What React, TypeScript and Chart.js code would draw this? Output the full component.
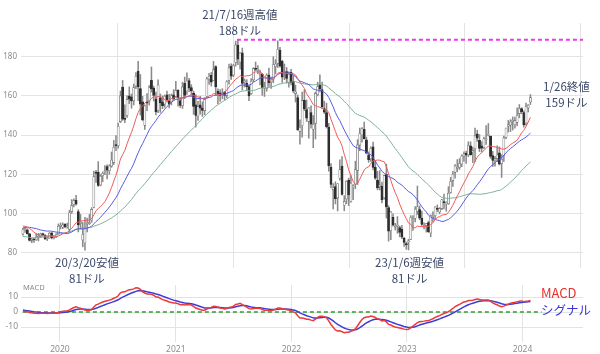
import React, { useEffect, useRef } from 'react';
import { Chart, registerables } from 'chart.js';

Chart.register(...registerables);

// Weekly candles (Fridays) starting 2019-09-06, US$
const startDate = '2019-09-06';

// weekly closes before the window (for moving averages / MACD warm-up)
const warmupCloses = [
  97.6, 98.6, 95.9, 100.1, 94.8, 89.3, 88.1, 82.2, 83.3, 85.5,
  79.3, 75.0, 84.5, 81.2, 79.9, 69.9, 75.5, 78.8, 82.0, 84.8,
  83.5, 81.7, 79.9, 81.4, 81.6, 83.7, 81.3, 85.6, 88.0, 89.0,
  91.7, 92.2, 93.9, 97.8, 98.1, 94.5, 93.4, 90.7, 88.6, 90.2,
  93.8, 95.6, 94.7, 97.9, 100.1, 98.2, 97.3, 91.6, 90.3, 89.2,
  87.8, 88.9,
];

const opens = [
  89.5, 91.8, 91.7, 89.6, 86.3, 86.9, 86.6, 88.0, 88.3, 89.8,
  89.0, 87.0, 87.5, 90.2, 87.5, 88.3, 89.7, 93.4, 93.0, 94.5,
  93.1, 91.9, 101.0, 104.6, 106.7, 101.0, 95.0, 86.5, 85.0, 94.5,
  94.8, 96.6, 103.2, 121.0, 121.2, 114.5, 119.3, 121.3, 124.0, 121.8,
  124.2, 126.0, 134.9, 134.6, 146.9, 164.5, 148.3, 150.0, 160.0, 159.5,
  157.5, 165.0, 172.5, 163.8, 157.0, 145.0, 157.0, 157.2, 168.0, 164.0,
  158.5, 152.6, 159.0, 157.0, 155.8, 160.5, 157.5, 157.0, 160.5, 159.7,
  162.8, 157.6, 155.0, 166.4, 162.5, 167.8, 164.3, 161.4, 155.4, 149.8,
  155.5, 153.9, 152.5, 159.7, 168.6, 170.5, 168.0, 175.0, 162.3, 161.6,
  161.1, 161.9, 160.3, 168.0, 175.1, 170.6, 177.1, 185.8, 177.3, 182.0,
  167.2, 166.6, 164.8, 161.2, 168.2, 174.1, 173.0, 171.0, 171.0, 164.0,
  163.8, 170.6, 167.2, 168.5, 175.0, 176.6, 183.3, 177.7, 171.8, 172.4,
  167.0, 172.0, 167.5, 161.2, 159.1, 141.9, 144.8, 157.7, 153.0, 147.0,
  151.5, 143.0, 146.0, 160.6, 165.6, 163.2, 153.5, 151.5, 144.0, 123.7,
  112.2, 113.7, 108.0, 118.0, 124.2, 104.2, 107.4, 116.9, 106.3, 113.6,
  115.0, 122.0, 134.9, 140.1, 142.9, 137.6, 129.9, 127.9, 134.0, 123.6,
  117.0, 113.6, 114.0, 108.0, 120.0, 103.0, 91.2, 98.0, 93.0, 93.5,
  92.8, 92.0, 87.5, 84.7, 85.5, 86.8, 96.9, 97.6, 101.2, 102.0,
  97.5, 93.2, 93.9, 95.4, 90.1, 98.0, 98.9, 102.3, 100.8, 102.5,
  106.1, 104.9, 105.0, 110.7, 116.8, 121.0, 123.0, 123.5, 125.3, 129.3,
  130.8, 130.0, 134.5, 131.4, 133.0, 140.6, 137.4, 134.5, 133.8, 137.7,
  140.0, 139.5, 129.5, 127.3, 128.0, 131.0, 125.5, 129.5, 138.8, 144.5,
  145.1, 147.0, 145.3, 146.5, 151.0, 153.6, 151.5, 146.2, 153.9, 156.9,
];

const highs = [
  92.4, 92.9, 92.2, 89.9, 87.3, 87.5, 89.8, 89.9, 90.0, 90.0,
  89.3, 88.1, 90.3, 90.3, 88.8, 89.8, 94.7, 95.2, 95.3, 94.9,
  95.1, 101.7, 107.1, 107.5, 109.3, 102.0, 99.5, 95.4, 98.0, 97.7,
  99.5, 103.0, 121.6, 122.0, 126.5, 119.9, 121.2, 124.5, 124.9, 124.9,
  131.4, 137.3, 139.8, 146.2, 162.5, 167.9, 155.4, 160.0, 164.6, 161.0,
  166.0, 171.9, 177.6, 170.9, 159.8, 155.4, 161.2, 165.3, 174.8, 165.0,
  162.0, 168.2, 161.0, 160.0, 160.5, 162.5, 160.8, 161.0, 163.2, 167.5,
  163.2, 159.2, 167.0, 169.6, 171.8, 169.0, 165.7, 162.5, 160.6, 157.2,
  159.8, 157.0, 159.0, 169.5, 171.5, 172.0, 177.6, 175.4, 163.6, 163.2,
  163.7, 162.3, 167.8, 176.2, 176.4, 176.2, 187.9, 188.7, 182.1, 184.4,
  168.7, 168.3, 165.4, 168.9, 174.4, 177.3, 175.5, 173.2, 171.5, 167.0,
  171.3, 174.2, 169.6, 180.0, 178.5, 188.1, 184.8, 178.2, 176.3, 174.5,
  172.3, 173.6, 170.7, 165.5, 160.5, 147.8, 162.0, 163.2, 158.0, 154.0,
  155.0, 150.0, 162.0, 167.0, 170.8, 167.0, 157.3, 156.3, 146.0, 125.5,
  115.3, 116.2, 115.3, 127.4, 129.0, 109.1, 116.7, 118.0, 119.4, 114.8,
  126.7, 137.7, 143.6, 143.9, 146.6, 139.0, 131.4, 134.0, 136.5, 127.0,
  121.5, 121.9, 116.0, 119.5, 125.2, 104.0, 101.0, 99.9, 95.0, 98.4,
  93.6, 94.0, 87.9, 85.4, 86.9, 98.9, 99.0, 103.5, 114.0, 103.9,
  101.2, 95.3, 95.0, 96.1, 99.3, 100.8, 103.5, 104.4, 103.0, 107.2,
  109.9, 106.0, 113.7, 118.4, 121.5, 125.0, 127.5, 128.0, 130.0, 131.5,
  131.9, 136.6, 136.6, 133.9, 143.6, 142.5, 140.3, 136.6, 139.0, 144.8,
  145.9, 139.5, 131.7, 129.2, 134.5, 134.0, 130.0, 139.5, 143.6, 147.5,
  147.9, 149.3, 149.2, 153.9, 155.6, 154.0, 152.4, 156.4, 155.6, 160.7,
];

const lows = [
  89.0, 90.4, 89.4, 85.9, 85.1, 85.2, 86.3, 86.0, 87.8, 88.5,
  86.6, 86.2, 87.4, 87.0, 87.0, 87.8, 89.5, 92.1, 92.3, 92.6,
  92.5, 90.6, 100.0, 103.4, 104.2, 90.6, 92.0, 83.0, 81.3, 90.6,
  94.4, 95.5, 102.9, 115.8, 113.8, 114.1, 116.2, 119.8, 117.7, 120.0,
  123.6, 125.0, 132.1, 133.4, 146.4, 147.5, 146.4, 149.0, 156.1, 153.7,
  155.4, 163.7, 157.6, 150.2, 147.3, 142.9, 152.5, 155.3, 162.0, 157.4,
  150.3, 151.4, 151.6, 153.5, 154.2, 156.8, 153.9, 155.4, 157.7, 159.5,
  154.8, 154.1, 153.6, 158.6, 160.8, 162.2, 160.3, 150.6, 144.1, 147.5,
  150.7, 149.5, 150.4, 158.7, 165.8, 165.0, 167.9, 160.5, 156.0, 157.2,
  158.5, 157.9, 159.1, 166.0, 168.4, 169.8, 175.2, 176.0, 173.6, 163.0,
  164.5, 162.7, 157.6, 160.8, 167.3, 172.9, 171.4, 165.6, 160.3, 159.7,
  162.4, 164.9, 163.8, 166.7, 171.2, 174.5, 174.7, 166.9, 168.3, 166.5,
  164.5, 165.6, 161.7, 156.9, 142.4, 135.4, 139.0, 152.5, 147.0, 138.4,
  143.6, 133.6, 138.0, 160.0, 162.0, 153.6, 151.0, 143.6, 121.6, 113.0,
  102.4, 104.9, 101.3, 117.0, 109.4, 101.4, 105.0, 104.0, 105.8, 107.0,
  112.6, 114.8, 132.0, 136.4, 137.9, 130.4, 126.1, 126.6, 122.3, 117.4,
  112.1, 112.0, 105.4, 107.3, 97.7, 85.9, 86.6, 93.5, 91.6, 89.9,
  88.1, 87.2, 83.2, 81.7, 81.4, 86.8, 91.4, 95.7, 99.5, 96.8,
  93.9, 92.1, 90.5, 90.3, 88.1, 95.6, 97.1, 101.0, 99.8, 102.0,
  102.4, 101.2, 104.6, 110.4, 113.8, 118.0, 121.3, 122.5, 123.9, 126.6,
  125.5, 129.0, 129.7, 125.9, 126.4, 136.8, 131.6, 131.4, 132.9, 135.3,
  139.5, 128.1, 124.0, 124.2, 126.5, 124.8, 118.4, 126.6, 138.2, 141.5,
  141.8, 142.6, 143.6, 144.7, 148.9, 150.9, 144.1, 145.0, 151.8, 155.6,
];

const closes = [
  91.7, 91.9, 89.7, 86.3, 86.9, 86.5, 87.9, 88.1, 89.6, 89.2,
  87.0, 87.3, 90.0, 87.6, 88.0, 89.3, 93.5, 93.7, 94.2, 93.2,
  93.1, 100.4, 104.0, 106.7, 104.8, 94.2, 95.1, 89.3, 92.3, 95.0,
  95.3, 102.1, 118.8, 120.5, 114.3, 119.0, 120.5, 121.8, 122.1, 124.2,
  127.3, 133.8, 134.6, 144.5, 160.0, 148.1, 148.0, 158.2, 158.4, 157.4,
  164.2, 170.1, 164.7, 155.8, 147.7, 154.8, 156.3, 164.3, 163.6, 160.2,
  151.8, 165.6, 156.4, 155.0, 159.8, 158.1, 155.8, 160.1, 158.6, 162.8,
  159.1, 155.2, 164.6, 160.3, 167.6, 163.9, 162.5, 154.6, 150.0, 154.5,
  153.7, 152.6, 158.1, 168.6, 170.0, 167.0, 173.4, 164.6, 161.1, 160.2,
  161.5, 160.3, 167.3, 174.3, 170.1, 175.5, 186.0, 178.7, 181.9, 166.4,
  167.2, 164.7, 160.0, 167.5, 173.9, 173.5, 173.1, 171.3, 164.2, 164.4,
  170.5, 166.8, 168.6, 175.9, 176.3, 183.8, 175.2, 169.5, 171.9, 168.9,
  171.1, 166.7, 162.6, 162.1, 142.6, 144.0, 157.6, 153.3, 148.7, 153.8,
  145.6, 145.5, 161.3, 164.8, 163.6, 154.5, 151.7, 144.3, 124.3, 114.8,
  113.1, 107.6, 115.2, 122.4, 109.7, 106.2, 116.5, 109.6, 115.5, 113.6,
  122.4, 135.0, 140.8, 143.2, 138.2, 130.8, 127.5, 133.3, 123.5, 118.0,
  113.0, 114.6, 106.9, 119.3, 103.4, 91.0, 100.8, 94.1, 93.4, 94.1,
  90.4, 87.9, 85.3, 84.0, 86.1, 98.1, 97.3, 102.2, 103.4, 97.6,
  94.4, 93.5, 94.9, 90.7, 99.0, 98.1, 103.3, 102.1, 102.5, 107.0,
  105.5, 105.7, 110.3, 116.3, 120.1, 124.3, 123.4, 125.5, 129.3, 130.4,
  129.8, 134.7, 130.0, 132.2, 139.6, 138.4, 133.2, 133.3, 138.1, 138.2,
  140.4, 129.1, 127.1, 128.0, 129.8, 125.2, 127.7, 138.6, 143.6, 145.2,
  146.7, 147.0, 147.4, 150.0, 153.4, 151.9, 145.2, 154.6, 155.3, 159.1,
];

const maPeriods = [13, 26, 52];
const macdPeriods = [12, 26, 9];

const yTicksMain = [80, 100, 120, 140, 160, 180];
const yTicksMacd = [-10, 0, 10];
const yearLabels = ['2020', '2021', '2022', '2023', '2024'];

const peakValue = 188.65;
const peakDate = '2021-07-13';

const highLabel = ['21/7/16週高値', '188ドル'];
const highLabelDate = '2021-07-16';
const low1Label = ['20/3/20安値', '81ドル'];
const low1Date = '2020-03-20';
const low2Label = ['23/1/6週安値', '81ドル'];
const low2Date = '2023-01-06';
const lastLabel = ['1/26終値', '159ドル'];
const lastDate = '2024-01-26';
const macdLegend = ['MACD', 'シグナル'];
const zeroLineEnd = '2024-03-01';

// ---------- helpers ----------
const DAY = 86400000;
const toUTC = (s: string) => {
  const [y, m, d] = s.split('-').map(Number);
  return Date.UTC(y, m - 1, d);
};
const dayOf = (s: string) => Math.round((toUTC(s) - toUTC(startDate)) / DAY);
const weekDay = (i: number) => i * 7;
const yearDays = yearLabels.map((y) => dayOf(`${y}-01-01`));

const X_MIN = -6;
const X_MAX = 1769;

const allCloses = warmupCloses.concat(closes);
const W = warmupCloses.length;

function sma(n: number) {
  return closes.map((_, i) => {
    const end = W + i;
    let s = 0;
    for (let k = end - n + 1; k <= end; k++) s += allCloses[k];
    return s / n;
  });
}
function ema(series: number[], n: number) {
  const a = 2 / (n + 1);
  const out: number[] = [];
  series.forEach((v, i) => out.push(i === 0 ? v : a * v + (1 - a) * out[i - 1]));
  return out;
}
const emaFast = ema(allCloses, macdPeriods[0]);
const emaSlow = ema(allCloses, macdPeriods[1]);
const macdAll = emaFast.map((v, i) => v - emaSlow[i]);
const signalAll = ema(macdAll, macdPeriods[2]);
const macd = macdAll.slice(W);
const signal = signalAll.slice(W);

const FONT = '"Noto Sans", "Noto Sans CJK JP", sans-serif';
const CJK = '"Noto Sans CJK JP", "Noto Sans", sans-serif';
const GRID = '#e3e3e3';

const yearTicks = (axis: any) => {
  axis.ticks = yearDays.map((v) => ({ value: v }));
};

export default function App() {
  const mainRef = useRef<HTMLCanvasElement>(null);
  const macdRef = useRef<HTMLCanvasElement>(null);

  useEffect(() => {
    Chart.defaults.font.family = FONT;
    const ma = maPeriods.map((n) => sma(n));
    const maColors = ['#f05a5a', '#5a5ae0', '#7fb096'];

    const annotPlugin = {
      id: 'annot',
      afterDatasetsDraw(chart: any) {
        const ctx = chart.ctx;
        const xs = chart.scales.x;
        ctx.save();
        ctx.font = `11.5px ${CJK}`;
        ctx.fillStyle = '#3b4868';
        ctx.textAlign = 'center';
        ctx.textBaseline = 'middle';
        const put = (lines: string[], cx: number, y0: number) => {
          ctx.fillText(lines[0], cx, y0);
          ctx.fillText(lines[1], cx, y0 + 16);
        };
        put(highLabel, xs.getPixelForValue(dayOf(highLabelDate)) + 2, 15);
        put(low1Label, xs.getPixelForValue(dayOf(low1Date)) + 2, 263);
        put(low2Label, xs.getPixelForValue(dayOf(low2Date)) + 1, 263);
        put(lastLabel, xs.getPixelForValue(dayOf(lastDate)) + 36, 87);
        ctx.restore();
      },
    };

    const main = new Chart(mainRef.current!, {
      type: 'bar',
      data: {
        datasets: [
          ...ma.map((vals, k) => ({
            type: 'line' as const,
            data: vals.map((v, i) => ({ x: weekDay(i), y: v })),
            borderColor: maColors[k],
            borderWidth: 1,
            pointRadius: 0,
            tension: 0,
            order: 0,
          })),
          {
            type: 'line' as const,
            data: [
              { x: dayOf(peakDate), y: peakValue },
              { x: X_MAX, y: peakValue },
            ],
            borderColor: '#e63de6',
            borderWidth: 2,
            borderDash: [4, 3],
            pointRadius: 0,
            order: 0,
          },
          {
            type: 'bar' as const,
            data: closes.map((c, i) => ({ x: weekDay(i), y: [opens[i], c] })),
            backgroundColor: (c: any) =>
              closes[c.dataIndex] >= opens[c.dataIndex] ? '#f4f4f4' : '#2e2e2e',
            borderColor: (c: any) =>
              closes[c.dataIndex] >= opens[c.dataIndex] ? '#6c6c6c' : '#2e2e2e',
            borderWidth: 0.6,
            borderSkipped: false,
            barThickness: 2.2,
            minBarLength: 1,
            grouped: false,
            order: 1,
          },
          {
            type: 'bar' as const,
            data: closes.map((_, i) => ({ x: weekDay(i), y: [lows[i], highs[i]] })),
            backgroundColor: '#8a8a8a',
            barThickness: 0.9,
            grouped: false,
            order: 2,
          },
        ] as any,
      },
      options: {
        animation: false,
        responsive: false,
        events: [],
        layout: { padding: { top: 23, right: 17, bottom: 86, left: 0 } },
        plugins: { legend: { display: false }, tooltip: { enabled: false } },
        scales: {
          x: {
            type: 'linear',
            offset: false,
            min: X_MIN,
            max: X_MAX,
            afterBuildTicks: yearTicks,
            afterFit: (a: any) => {
              a.height = 0;
            },
            ticks: { display: false },
            grid: { color: GRID, drawTicks: false },
            border: { display: false },
          },
          y: {
            type: 'linear',
            min: 72.2,
            max: 197.2,
            afterBuildTicks: (a: any) => {
              a.ticks = yTicksMain.map((v) => ({ value: v }));
            },
            afterFit: (a: any) => {
              a.width = 21;
            },
            ticks: { color: '#8c8c8c', font: { size: 8 }, padding: 4 },
            grid: { color: GRID, drawTicks: false },
            border: { display: false },
          },
        },
      } as any,
      plugins: [annotPlugin],
    });

    const macdPlugin = {
      id: 'macdText',
      afterDatasetsDraw(chart: any) {
        const ctx = chart.ctx;
        ctx.save();
        ctx.textBaseline = 'middle';
        ctx.textAlign = 'left';
        ctx.font = `7.5px ${FONT}`;
        ctx.fillStyle = '#8c8c8c';
        ctx.fillText('MACD', 23, 288);
        ctx.font = `13px ${CJK}`;
        ctx.fillStyle = '#e8302e';
        ctx.fillText(macdLegend[0], 541, 293);
        ctx.font = `12.5px ${CJK}`;
        ctx.fillStyle = '#3a38d8';
        ctx.fillText(macdLegend[1], 541, 310);
        ctx.restore();
      },
    };

    const macdChart = new Chart(macdRef.current!, {
      type: 'line',
      data: {
        datasets: [
          {
            data: macd.map((v, i) => ({ x: weekDay(i), y: v })),
            borderColor: '#ec3a3a',
            borderWidth: 1.5,
            pointRadius: 0,
            order: 0,
          },
          {
            data: signal.map((v, i) => ({ x: weekDay(i), y: v })),
            borderColor: '#3c3cdc',
            borderWidth: 1.5,
            pointRadius: 0,
            order: 1,
          },
          {
            data: [
              { x: 0, y: 0 },
              { x: dayOf(zeroLineEnd), y: 0 },
            ],
            borderColor: '#2ca02c',
            borderWidth: 1.5,
            borderDash: [4, 3],
            pointRadius: 0,
            order: 2,
          },
        ],
      },
      options: {
        animation: false,
        responsive: false,
        events: [],
        layout: { padding: { top: 285, right: 17, bottom: 0, left: 0 } },
        plugins: { legend: { display: false }, tooltip: { enabled: false } },
        scales: {
          x: {
            type: 'linear',
            min: X_MIN,
            max: X_MAX,
            afterBuildTicks: yearTicks,
            afterFit: (a: any) => {
              a.height = 12;
            },
            ticks: {
              color: '#8c8c8c',
              font: { size: 8.5 },
              padding: 2,
              maxRotation: 0,
              callback: (_v: any, i: number) => yearLabels[i],
            },
            grid: { color: GRID, drawTicks: false },
            border: { display: false },
          },
          y: {
            type: 'linear',
            min: -20,
            max: 18,
            afterBuildTicks: (a: any) => {
              a.ticks = yTicksMacd.map((v) => ({ value: v }));
            },
            afterFit: (a: any) => {
              a.width = 21;
            },
            ticks: { color: '#8c8c8c', font: { size: 8.5 }, padding: 3 },
            grid: { color: GRID, drawTicks: false },
            border: { display: false },
          },
        },
      } as any,
      plugins: [macdPlugin],
    });

    return () => {
      main.destroy();
      macdChart.destroy();
    };
  }, []);

  const cv: React.CSSProperties = { position: 'absolute', left: 0, top: 0 };
  return (
    <div style={{ position: 'absolute', left: 0, top: 0, width: 600, height: 354, background: '#fff' }}>
      <canvas ref={macdRef} width={600} height={354} style={cv} />
      <canvas ref={mainRef} width={600} height={354} style={cv} />
    </div>
  );
}
